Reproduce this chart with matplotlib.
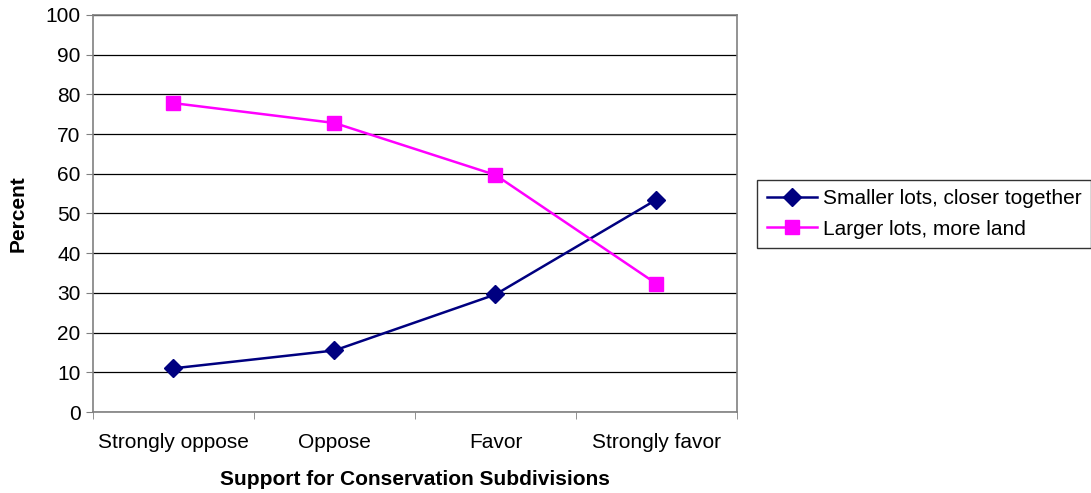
import matplotlib
matplotlib.use("Agg")
import matplotlib.pyplot as plt
import numpy as np

plt.rcParams['font.family'] = ['Liberation Sans', 'DejaVu Sans']

Categories = ["Strongly oppose", "Oppose", "Favor", "Strongly favor"]
SmallerLots = [11.0, 15.5, 29.6, 53.5]
LargerLots = [77.8, 72.8, 59.7, 32.3]

Fig = plt.figure(figsize=(10.91, 4.93), dpi=100)
Ax = Fig.add_axes([0.0852, 0.1643, 0.5903, 0.8053])

X = np.arange(len(Categories))
Ax.plot(X, SmallerLots, '-', color='#000080', lw=1.8, marker='D', ms=9,
        label="Smaller lots, closer together")
Ax.plot(X, LargerLots, '-', color='#FF00FF', lw=1.8, marker='s', ms=10.5,
        label="Larger lots, more land")

Ax.set_xlim(-0.5, len(Categories) - 0.5)
Ax.set_ylim(0, 100)
Ax.set_yticks(range(0, 101, 10))
Ax.yaxis.grid(True, color='black', lw=0.9)
Ax.set_axisbelow(True)

Ax.set_xticks(X)
Ax.set_xticklabels(Categories)
Ax.set_xticks(np.arange(-0.5, len(Categories), 1.0), minor=True)
Ax.tick_params(axis='x', which='major', length=0, pad=15, labelsize=15)
Ax.tick_params(axis='x', which='minor', length=5, color='#808080')
Ax.tick_params(axis='y', length=5, color='#808080', labelsize=15, pad=4)

for s in Ax.spines.values():
    s.set_color('#808080')
    s.set_linewidth(1.2)

Ax.set_ylabel("Percent", fontsize=15, fontweight='bold', labelpad=13)
Ax.set_xlabel("Support for Conservation Subdivisions", fontsize=15, fontweight='bold', labelpad=13)

Leg = Ax.legend(loc='upper left', bbox_to_anchor=(0.694, 0.635), bbox_transform=Fig.transFigure,
                fontsize=15, frameon=True, fancybox=False, handlelength=2.4,
                borderpad=0.45, labelspacing=0.55, handletextpad=0.3, borderaxespad=0)
Leg.get_frame().set_edgecolor('black')
Leg.get_frame().set_linewidth(1.0)

Fig.savefig("out.png", dpi=100)
